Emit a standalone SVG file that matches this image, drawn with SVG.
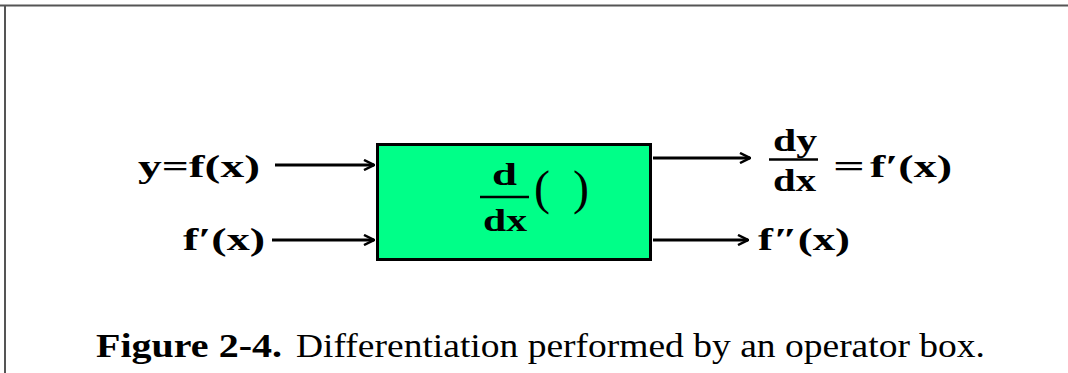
<svg xmlns="http://www.w3.org/2000/svg" width="1068" height="373" viewBox="0 0 1068 373">
<defs>
<style>
.m{font-family:"Liberation Serif","Times New Roman",serif;font-weight:bold;fill:#000}
.c{font-family:"Liberation Serif","Times New Roman",serif;fill:#000}
.w{stroke:#000;stroke-width:3;fill:none}
.fr{stroke:#000;stroke-width:2.5}
</style>
<marker id="ah" viewBox="0 0 12 12" refX="11" refY="6" markerWidth="12" markerHeight="12" markerUnits="userSpaceOnUse" orient="auto">
<path d="M1,1 L11,6 L1,11" fill="none" stroke="#000" stroke-width="2.5"/>
</marker>
</defs>
<rect width="1068" height="373" fill="#fff"/>
<path d="M0,5.5 H1068 M5,5 V373" stroke="#555" stroke-width="2" fill="none"/>
<g id="box">
<rect x="377.5" y="144.5" width="273" height="115" fill="#00FF88" stroke="#000" stroke-width="3"/>
<text class="m" x="492" y="185" font-size="31" textLength="25" lengthAdjust="spacingAndGlyphs">d</text>
<line class="fr" x1="480" y1="197" x2="529" y2="197"/>
<text class="m" x="483" y="231" font-size="31" textLength="44" lengthAdjust="spacingAndGlyphs">dx</text>
<text class="c" x="534" y="204" font-size="48" textLength="55" lengthAdjust="spacing">( )</text>
</g>
<g id="in1"><text class="m" x="138" y="177" font-size="32" textLength="122" lengthAdjust="spacingAndGlyphs">y=f(x)</text></g>
<g id="in2"><text class="m" x="183" y="250" font-size="32" textLength="82" lengthAdjust="spacingAndGlyphs">f′(x)</text></g>
<g id="out1">
<text class="m" x="773" y="151" font-size="31" textLength="44" lengthAdjust="spacingAndGlyphs">dy</text>
<line class="fr" x1="769" y1="159.5" x2="818" y2="159.5"/>
<text class="m" x="773" y="191" font-size="31" textLength="43" lengthAdjust="spacingAndGlyphs">dx</text>
<text class="m" x="833" y="177" font-size="32" textLength="32" lengthAdjust="spacingAndGlyphs">=</text>
<text class="m" x="870" y="177" font-size="32" textLength="82" lengthAdjust="spacingAndGlyphs">f′(x)</text>
</g>
<g id="out2"><text class="m" x="758" y="250" font-size="32" textLength="92" lengthAdjust="spacingAndGlyphs">f″(x)</text></g>
<g id="connectors">
<line class="w" x1="275" y1="165" x2="374" y2="165" marker-end="url(#ah)"/>
<line class="w" x1="272" y1="240" x2="374" y2="240" marker-end="url(#ah)"/>
<line class="w" x1="653" y1="158" x2="750" y2="158" marker-end="url(#ah)"/>
<line class="w" x1="653" y1="240" x2="748" y2="240" marker-end="url(#ah)"/>
</g>
<g id="caption">
<text class="c" x="96" y="357" font-size="33" font-weight="bold" textLength="186" lengthAdjust="spacingAndGlyphs">Figure 2-4.</text>
<text class="c" x="296" y="357" font-size="33" textLength="689" lengthAdjust="spacingAndGlyphs">Differentiation performed by an operator box.</text>
</g>
</svg>
